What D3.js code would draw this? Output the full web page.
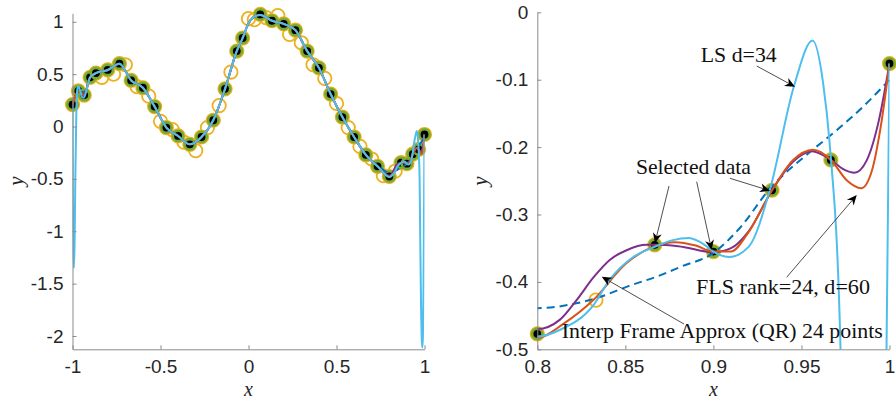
<!DOCTYPE html>
<html>
<head>
<meta charset="utf-8">
<script src="https://cdn.jsdelivr.net/npm/d3@7"></script>
<style>
  body { margin: 0; background: #fff; }
  svg { display: block; }
</style>
</head>
<body>
<svg id="chart" width="896" height="406"></svg>
<script>
// ---- samples on [-1, 1], spacing 1/30 ----
const sampleX = [-1, -0.9667, -0.9333, -0.9, -0.8667, -0.8333, -0.8, -0.7667, -0.7333, -0.7,
  -0.6667, -0.6333, -0.6, -0.5667, -0.5333, -0.5, -0.4667, -0.4333, -0.4, -0.3667,
  -0.3333, -0.3, -0.2667, -0.2333, -0.2, -0.1667, -0.1333, -0.1, -0.0667, -0.0333,
  0, 0.0333, 0.0667, 0.1, 0.1333, 0.1667, 0.2, 0.2333, 0.2667, 0.3,
  0.3333, 0.3667, 0.4, 0.4333, 0.4667, 0.5, 0.5333, 0.5667, 0.6, 0.6333,
  0.6667, 0.7, 0.7333, 0.7667, 0.8, 0.8333, 0.8667, 0.9, 0.9333, 0.9667, 1];
const sampleY = [0.21, 0.34, 0.30, 0.47, 0.51, 0.47, 0.54, 0.50, 0.60, 0.59,
  0.44, 0.38, 0.37, 0.29, 0.19, 0.05, -0.01, -0.03, -0.09, -0.15,
  -0.17, -0.23, -0.10, -0.01, 0.06, 0.20, 0.36, 0.52, 0.72, 0.845,
  1.03, 1.02, 1.07, 1.04, 1.01, 1.06, 0.98, 0.88, 0.92, 0.80,
  0.72, 0.59, 0.56, 0.46, 0.31, 0.22, 0.09, -0.01, -0.10, -0.19,
  -0.27, -0.31, -0.38, -0.47, -0.477, -0.427, -0.345, -0.355, -0.264, -0.219, -0.076];
// indices of the selected samples
const selectedIdx = [0, 1, 2, 3, 4, 6, 8, 10, 12, 14, 16, 18, 20, 22, 24, 26, 28, 29,
  32, 34, 36, 38, 40, 42, 44, 46, 48, 50, 52, 54, 56, 57, 58, 59, 60];

// ---- approximant curves ----
// common middle section
const bodyX = [-0.9, -0.8667, -0.8, -0.7333, -0.6667, -0.6, -0.5333, -0.4667, -0.4, -0.3333,
  -0.2667, -0.2, -0.1333, -0.0667, -0.0333, 0, 0.0333, 0.0667, 0.1333, 0.2,
  0.2667, 0.3333, 0.4, 0.4667, 0.5333, 0.6, 0.6667, 0.7333];
const bodyY = [0.47, 0.51, 0.54, 0.60, 0.44, 0.37, 0.19, -0.01, -0.09, -0.17,
  -0.10, 0.06, 0.36, 0.72, 0.845, 0.985, 1.05, 1.065, 1.01, 0.98,
  0.92, 0.72, 0.56, 0.31, 0.09, -0.10, -0.27, -0.38];

// interpolating frame approximation (purple)
const ifaHeadX = [-1, -0.9667, -0.9333];
const ifaHeadY = [0.21, 0.34, 0.30];
const ifaTailX = [0.8, 0.8129, 0.8223, 0.832, 0.8413, 0.8507, 0.862, 0.867, 0.88, 0.9,
  0.91, 0.92, 0.9333, 0.945, 0.956, 0.9667, 0.974, 0.9801, 0.987, 0.994, 1];
const ifaTailY = [-0.47, -0.456, -0.427, -0.393, -0.367, -0.353, -0.345, -0.345, -0.347, -0.356,
  -0.35, -0.325, -0.264, -0.222, -0.206, -0.219, -0.233, -0.238, -0.22, -0.16, -0.076];

// FLS rank=24, d=60 (red)
const flsHeadX = [-1, -0.9667, -0.9333];
const flsHeadY = [0.21, 0.34, 0.30];
const flsTailX = [0.8, 0.815, 0.8318, 0.8507, 0.8667, 0.878, 0.89, 0.9, 0.91, 0.919,
  0.9333, 0.945, 0.9566, 0.9667, 0.976, 0.9839, 0.99, 0.995, 1];
const flsTailY = [-0.483, -0.462, -0.427, -0.372, -0.347, -0.341, -0.346, -0.355, -0.355, -0.33,
  -0.264, -0.22, -0.204, -0.219, -0.25, -0.261, -0.235, -0.17, -0.076];

// LS d=34 (cyan)
const lsHeadX = [-1, -0.9985, -0.996, -0.992, -0.988, -0.984, -0.978, -0.972, -0.966, -0.958,
  -0.945, -0.935, -0.92];
const lsHeadY = [0.21, -0.6, -1.2, -1.35, -1.1, -0.5, 0.15, 0.36, 0.385, 0.35,
  0.28, 0.275, 0.35];
const lsTailX = [0.8, 0.813, 0.832, 0.841, 0.8545, 0.8667, 0.877, 0.886, 0.895, 0.9,
  0.909, 0.92, 0.932, 0.9457, 0.9563, 0.9623, 0.966, 0.9722, 0.976, 0.98,
  0.985, 0.988, 0.991, 0.994, 0.9965, 0.9983, 1];
const lsTailY = [-0.481, -0.471, -0.434, -0.397, -0.363, -0.348, -0.338, -0.335, -0.345, -0.355,
  -0.363, -0.348, -0.264, -0.110, -0.042, -0.105, -0.194, -0.5, -1.1, -1.65,
  -2.05, -2.11, -2.0, -1.6, -1.0, -0.5, -0.076];

// low-order smooth fit (dashed)
const smoothHeadX = [-1, -0.9667, -0.9333];
const smoothHeadY = [0.22, 0.33, 0.33];
const smoothBodyEndX = 0.6667;
const smoothTailX = [0.7333, 0.8, 0.82, 0.836, 0.851, 0.87, 0.881, 0.9, 0.915, 0.932,
  0.955, 0.97, 0.985, 1];
const smoothTailY = [-0.37, -0.439, -0.433, -0.422, -0.407, -0.39, -0.378, -0.357, -0.32, -0.262,
  -0.207, -0.175, -0.14, -0.1];

// ---- tick values ----
const leftXTicks = [-1, -0.5, 0, 0.5, 1];
const leftYTicks = [-2, -1.5, -1, -0.5, 0, 0.5, 1];
const rightXTicks = [0.8, 0.85, 0.9, 0.95, 1];
const rightYTicks = [-0.5, -0.4, -0.3, -0.2, -0.1, 0];

// ---- annotations (right panel, data coordinates) ----
const labelTexts = ["LS d=34", "Selected data", "FLS rank=24, d=60", "Interp Frame Approx (QR) 24 points"];
const labelPos = [[0.8928, -0.0742], [0.8560, -0.2404], [0.8901, -0.4184], [0.8139, -0.4828]];
const labelWidths = [76, 115, 174, 321];
const arrowFrom = [[0.9246, -0.0797], [0.8748, -0.2577], [0.8905, -0.2513], [0.9094, -0.2463], [0.9416, -0.3932], [0.8833, -0.4625]];
const arrowTo = [[0.9463, -0.1104], [0.8668, -0.3423], [0.8990, -0.3527], [0.9321, -0.2647], [0.9814, -0.2711], [0.8366, -0.3923]];

// ---- colours ----
const C = {
  blue: "#0072BD", red: "#D95319", yellow: "#EDB120", purple: "#7E2F8E",
  green: "#77AC30", cyan: "#4DBEEE", axis: "#8a8a8a", text: "#262626"
};

const zip = (xs, ys) => xs.map((x, i) => [x, ys[i]]);
const body = zip(bodyX, bodyY);
const curves = [
  { pts: zip(smoothHeadX, smoothHeadY).concat(body.filter(d => d[0] <= smoothBodyEndX), zip(smoothTailX, smoothTailY)), color: C.blue, dash: "8,5" },
  { pts: zip(ifaHeadX, ifaHeadY).concat(body, zip(ifaTailX, ifaTailY)), color: C.purple },
  { pts: zip(flsHeadX, flsHeadY).concat(body, zip(flsTailX, flsTailY)), color: C.red },
  { pts: zip(lsHeadX, lsHeadY).concat(body, zip(lsTailX, lsTailY)), color: C.cyan }
];
const samples = zip(sampleX, sampleY);
const selected = selectedIdx.map(i => samples[i]);

const svg = d3.select("#chart");

function panel(opts) {
  const { xDomain, xRange, yDomain, yRange, xTicks, yTicks, id, fmt } = opts;
  const x = d3.scaleLinear().domain(xDomain).range(xRange);
  const y = d3.scaleLinear().domain(yDomain).range(yRange);
  const g = svg.append("g");

  g.append("clipPath").attr("id", id)
    .append("rect")
    .attr("x", xRange[0]).attr("y", yRange[1])
    .attr("width", xRange[1] - xRange[0]).attr("height", yRange[0] - yRange[1]);

  const inX = d => d[0] >= xDomain[0] - 1e-9 && d[0] <= xDomain[1] + 1e-9 &&
                   d[1] >= yDomain[0] && d[1] <= yDomain[1];

  // sample markers
  g.append("g").selectAll("circle").data(samples.filter(inX)).join("circle")
    .attr("cx", d => x(d[0])).attr("cy", d => y(d[1])).attr("r", 6.7)
    .attr("fill", "none").attr("stroke", C.yellow).attr("stroke-width", 1.8);
  g.append("g").selectAll("circle").data(selected.filter(inX)).join("circle")
    .attr("cx", d => x(d[0])).attr("cy", d => y(d[1])).attr("r", 5.2)
    .attr("fill", "#000").attr("stroke", C.green).attr("stroke-width", 2.6);

  // curves
  const line = d3.line().x(d => x(d[0])).y(d => y(d[1])).curve(d3.curveMonotoneX);
  const cg = g.append("g").attr("clip-path", `url(#${id})`);
  curves.forEach(c => {
    cg.append("path").attr("d", line(c.pts))
      .attr("fill", "none").attr("stroke", c.color).attr("stroke-width", 2)
      .attr("stroke-dasharray", c.dash || null).attr("stroke-linejoin", "round");
  });

  // axes
  const ax = g.append("g").attr("transform", `translate(0,${yRange[0]})`)
    .call(d3.axisBottom(x).tickValues(xTicks).tickFormat(fmt).tickSizeInner(-4).tickSizeOuter(0).tickPadding(10.5));
  const ay = g.append("g").attr("transform", `translate(${xRange[0]},0)`)
    .call(d3.axisLeft(y).tickValues(yTicks).tickFormat(fmt).tickSizeInner(-4).tickSizeOuter(0).tickPadding(9));
  [ax, ay].forEach(a => {
    a.select(".domain").attr("stroke", C.axis);
    a.selectAll(".tick line").attr("stroke", C.axis);
    a.selectAll(".tick text").attr("fill", C.text)
      .style("font-family", "'Liberation Sans', Arial, Helvetica, sans-serif").style("font-size", "19px");
  });

  // axis titles
  const cx = (xRange[0] + xRange[1]) / 2;
  g.append("text").attr("x", cx).attr("y", 395.5).attr("text-anchor", "middle")
    .style("font-family", "'Liberation Serif', 'Times New Roman', serif").style("font-style", "italic")
    .style("font-size", "20px").attr("fill", C.text).text("x");
  g.append("text").attr("transform", `translate(${xRange[0] - 50},181) rotate(-90)`)
    .attr("text-anchor", "middle")
    .style("font-family", "'Liberation Serif', 'Times New Roman', serif").style("font-style", "italic")
    .style("font-size", "21px").attr("fill", C.text).text("y");

  return { x, y, g };
}

const fmt = d => String(+d.toFixed(2));

panel({ id: "clipL", xDomain: [-1, 1], xRange: [72.5, 424.5], yDomain: [-2.127, 1.081], yRange: [349.3, 13.3],
        xTicks: leftXTicks, yTicks: leftYTicks, fmt });
const R = panel({ id: "clipR", xDomain: [0.8, 1], xRange: [537.3, 889.5], yDomain: [-0.5, 0], yRange: [349.3, 12.3],
        xTicks: rightXTicks, yTicks: rightYTicks, fmt });

// annotations on the right panel
const ann = R.g.append("g");
labelTexts.forEach((t, i) => {
  ann.append("text").attr("x", R.x(labelPos[i][0])).attr("y", R.y(labelPos[i][1]))
    .attr("textLength", labelWidths[i]).attr("lengthAdjust", "spacingAndGlyphs")
    .style("font-family", "'Liberation Serif', 'Times New Roman', serif").style("font-size", "21px")
    .attr("fill", "#111").text(t);
});
arrowFrom.forEach((f, i) => {
  const x0 = R.x(f[0]), y0 = R.y(f[1]);
  const x1 = R.x(arrowTo[i][0]), y1 = R.y(arrowTo[i][1]);
  const ang = Math.atan2(y1 - y0, x1 - x0);
  const L = 10, W = 4.5, N = 7;
  const ux = Math.cos(ang), uy = Math.sin(ang), px = -uy, py = ux;
  ann.append("line").attr("x1", x0).attr("y1", y0)
    .attr("x2", x1 - ux * N).attr("y2", y1 - uy * N)
    .attr("stroke", "#222").attr("stroke-width", 0.8);
  const head = [
    [x1, y1],
    [x1 - ux * L + px * W, y1 - uy * L + py * W],
    [x1 - ux * N, y1 - uy * N],
    [x1 - ux * L - px * W, y1 - uy * L - py * W]
  ];
  ann.append("path").attr("d", "M" + head.map(p => p.join(",")).join("L") + "Z").attr("fill", "#000");
});
</script>
</body>
</html>
